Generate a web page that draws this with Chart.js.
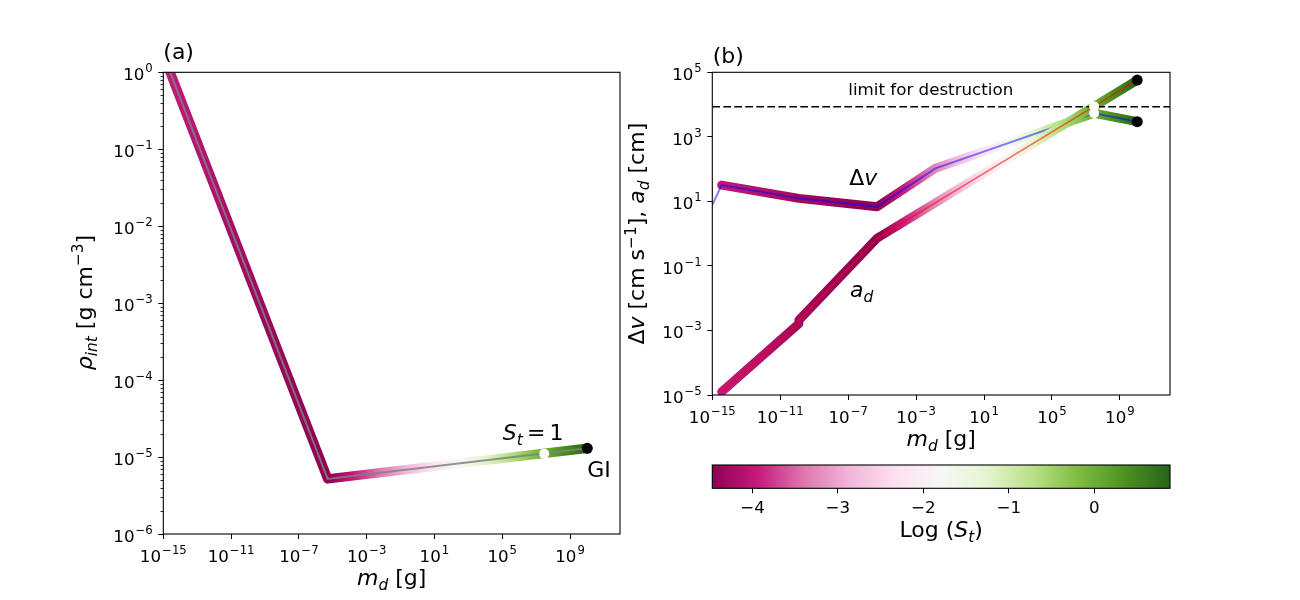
<!DOCTYPE html>
<html>
<head>
<meta charset="utf-8">
<script src="https://cdn.jsdelivr.net/npm/chart.js@4.4.0/dist/chart.umd.min.js"></script>
<style>
  body { margin: 0; background: #fff; }
  #wrap { position: relative; width: 1300px; height: 600px; }
  canvas { position: absolute; left: 0; top: 0; }
</style>
</head>
<body>
<div id="wrap">
  <canvas id="cA" width="1300" height="600"></canvas>
  <canvas id="cB" width="1300" height="600"></canvas>
  <canvas id="cC" width="1300" height="600"></canvas>
</div>
<script>
// ---- data ----
// panel (a): internal density along the track
const massA = [1e-15, 10 ** -5.3, 10 ** 10.02];
const rhoA = [1.7, 5.2e-6, 1.3e-5];
const stOneMass = 10 ** 7.48;
const stOneRho = 1.1e-5;

// panel (b): relative velocity and size
const massDv = [10 ** -14.45, 10 ** -9.9, 10 ** -5.3, 10 ** -1.86, 10 ** 7.48, 10 ** 10.02];
const dv = [32, 12.4, 6.8, 106, 5370, 2950];
const dvLeadMass = 1e-15;   // thin line only
const dvLead = 7.7;
const massAd = [10 ** -14.45, 10 ** -9.9, 10 ** -9.9, 10 ** -5.3, 10 ** -1.86, 10 ** 7.48, 10 ** 10.02];
const ad = [1.26e-5, 1.64e-3, 2.1e-3, 0.72, 9.06, 8770, 57500];
const limitDestruction = 8600;

// Stokes number along the track (log10), used for the colour of the thick lines
const stLogMass = [-15, -14.45, -9.9, -5.3, 7.48, 10.02];
const stLog = [-3.92, -3.97, -4.3, -4.47, 0, 0.886];
const cbMin = -4.47, cbMax = 0.886;

// ticks
const xTicks = [1e-15, 1e-11, 1e-7, 1e-3, 1e1, 1e5, 1e9];
const yTicksA = [1e-6, 1e-5, 1e-4, 1e-3, 1e-2, 1e-1, 1e0];
const yTicksB = [1e-5, 1e-3, 1e-1, 1e1, 1e3, 1e5];
const cbTicks = [-4, -3, -2, -1, 0];
const xMin = 1e-15, xMax = 10 ** 11.95;

// ---- helpers ----
const FONT = 'DejaVu Sans';
Chart.defaults.font.family = FONT;
Chart.defaults.color = '#000';

const PIYG = ['#8e0152', '#c51b7d', '#de77ae', '#f1b6da', '#fde0ef', '#f7f7f7',
              '#e6f5d0', '#b8e186', '#7fbc41', '#4d9221', '#276419'];
function hex(c) { return [1, 3, 5].map(i => parseInt(c.substr(i, 2), 16)); }
function piyg(t) {
  t = Math.min(1, Math.max(0, t));
  const p = t * 10, i = Math.min(9, Math.floor(p)), f = p - i;
  const a = hex(PIYG[i]), b = hex(PIYG[i + 1]);
  return 'rgb(' + a.map((v, k) => Math.round(v + (b[k] - v) * f)).join(',') + ')';
}
function stAt(lm) {
  if (lm <= stLogMass[0]) return stLog[0];
  for (let i = 1; i < stLogMass.length; i++) {
    if (lm <= stLogMass[i]) {
      const f = (lm - stLogMass[i - 1]) / (stLogMass[i] - stLogMass[i - 1]);
      return stLog[i - 1] + f * (stLog[i] - stLog[i - 1]);
    }
  }
  return stLog[stLog.length - 1];
}
function stGradient(ctx) {
  const chart = ctx.chart, area = chart.chartArea;
  if (!area) return '#c51b7d';
  const xs = chart.scales.x;
  const g = chart.ctx.createLinearGradient(area.left, 0, area.right, 0);
  const n = 160;
  for (let k = 0; k <= n; k++) {
    const px = area.left + (area.right - area.left) * k / n;
    const lm = Math.log10(xs.getValueForPixel(px));
    g.addColorStop(k / n, piyg((stAt(lm) - cbMin) / (cbMax - cbMin)));
  }
  return g;
}

function pow10(v) {
  const e = Math.round(Math.log10(v));
  return '10^' + e;
}
function pts(xs, ys) { return xs.map((x, i) => ({x: x, y: ys[i]})); }

// draw text with italic / sub / superscript parts
function drawMath(c, parts, x, y, size, align, rotate) {
  c.save();
  c.translate(x, y);
  if (rotate) c.rotate(-Math.PI / 2);
  c.fillStyle = '#000';
  c.textBaseline = 'alphabetic';
  c.textAlign = 'left';
  const fontOf = p => (p.i ? 'italic ' : '') + ((p.sub || p.sup) ? size * 0.7 : size) + 'px "' + FONT + '"';
  let w = 0;
  parts.forEach(p => { c.font = fontOf(p); p.w = c.measureText(p.t).width + (p.dx || 0); w += p.w; });
  let cx = align === 'center' ? -w / 2 : align === 'right' ? -w : 0;
  parts.forEach(p => {
    c.font = fontOf(p);
    const dy = p.sub ? size * 0.22 : p.sup ? (p.rise != null ? -p.rise : -size * 0.38) : 0;
    c.fillText(p.t, cx + (p.dx || 0), dy);
    cx += p.w;
  });
  c.restore();
}

// tick labels of the form 10^n, placed with the library's scale
function powLabels(chart, axis, ticks) {
  const s = chart.scales[axis], a = chart.chartArea, c = chart.ctx;
  ticks.forEach(v => {
    const e = Math.round(Math.log10(v));
    const parts = [{t: '10'}, {t: (e < 0 ? '−' : '') + Math.abs(e), sup: 1, rise: 8, dx: 1}];
    if (axis === 'x') {
      drawMath(c, parts, s.getPixelForValue(v), a.bottom + 28, 16.7, 'center');
    } else {
      drawMath(c, parts, a.left - 10.5, s.getPixelForValue(v) + 7.8, 16.7, 'right');
    }
  });
}

function frame(chart) {
  const a = chart.chartArea, c = chart.ctx;
  c.save();
  c.strokeStyle = '#000';
  c.lineWidth = 1.1;
  c.strokeRect(a.left, a.top, a.right - a.left, a.bottom - a.top);
  c.restore();
}

function logAxis(ticks, pos, width) {
  return {
    type: 'logarithmic',
    position: pos,
    bounds: 'data',
    border: {display: false},
    grid: {display: true, drawOnChartArea: false, drawTicks: true, tickLength: 5, color: '#000', tickColor: '#000', tickWidth: 1},
    ticks: {display: false, autoSkip: false, callback: v => pow10(v)},
    afterBuildTicks: s => { s.ticks = ticks.map(v => ({value: v})); },
    afterFit: s => { if (pos === 'left') s.width = width; else s.height = width; }
  };
}

const baseOpts = {
  responsive: false,
  animation: false,
  devicePixelRatio: 1,
  events: [],
  plugins: {legend: {display: false}, tooltip: {enabled: false}}
};

// ---- panel (a) ----
new Chart(document.getElementById('cA'), {
  type: 'scatter',
  data: {
    datasets: [
      {data: pts(massA, rhoA), showLine: true, borderColor: stGradient, borderWidth: 9.5,
       borderJoinStyle: 'round', borderCapStyle: 'round', pointRadius: 0, clip: 0, order: 3},
      {data: pts(massA, rhoA), showLine: true, borderColor: 'rgba(128,128,128,0.85)', borderWidth: 2,
       pointRadius: 0, clip: 0, order: 2},
      {data: [{x: stOneMass, y: stOneRho}], pointRadius: 5, pointBackgroundColor: '#fff',
       pointBorderWidth: 0, order: 1},
      {data: [{x: massA[massA.length - 1], y: rhoA[rhoA.length - 1]}], pointRadius: 5.5,
       pointBackgroundColor: '#000', pointBorderWidth: 0, order: 0}
    ]
  },
  options: Object.assign({}, baseOpts, {
    layout: {padding: {left: 0, right: 680, top: 72.3, bottom: 0}},
    scales: {
      x: Object.assign(logAxis(xTicks, 'bottom', 66), {min: xMin, max: xMax}),
      y: Object.assign(logAxis(yTicksA, 'left', 163.3), {min: 1e-6, max: 1})
    }
  }),
  plugins: [{
    id: 'deco',
    afterDraw(chart) {
      const c = chart.ctx, ys = chart.scales.y, a = chart.chartArea;
      c.save();
      c.strokeStyle = '#000';
      c.lineWidth = 0.8;
      for (let e = -6; e < 0; e++) {
        for (let k = 2; k <= 9; k++) {
          const py = Math.round(ys.getPixelForValue(k * 10 ** e)) + 0.5;
          c.beginPath(); c.moveTo(a.left - 2.8, py); c.lineTo(a.left, py); c.stroke();
        }
      }
      c.restore();
      frame(chart);
      powLabels(chart, 'x', xTicks);
      powLabels(chart, 'y', yTicksA);
      drawMath(c, [{t: '(a)'}], 163.3, 58.5, 22, 'left');
      drawMath(c, [{t: 'ρ', i: 1}, {t: 'int', i: 1, sub: 1}, {t: ' [g cm'}, {t: '−3', sup: 1}, {t: ']'}],
               91.7, 302.5, 22, 'center', true);
      drawMath(c, [{t: 'm', i: 1}, {t: 'd', i: 1, sub: 1}, {t: ' [g]'}], 391.7, 585, 22, 'center');
      drawMath(c, [{t: 'S', i: 1}, {t: 't', i: 1, sub: 1}, {t: '=', dx: 4.2}, {t: '1', dx: 4.2}],
               502.7, 440, 22, 'left');
      drawMath(c, [{t: 'GI'}], 587.3, 476.7, 22, 'left');
    }
  }]
});

// ---- panel (b) ----
new Chart(document.getElementById('cB'), {
  type: 'scatter',
  data: {
    datasets: [
      {data: pts(massDv, dv), showLine: true, borderColor: stGradient, borderWidth: 9,
       borderJoinStyle: 'round', borderCapStyle: 'round', pointRadius: 0, clip: 0, order: 7},
      {data: pts([dvLeadMass].concat(massDv), [dvLead].concat(dv)), showLine: true,
       borderColor: 'rgba(0,0,255,0.5)', borderWidth: 2, pointRadius: 0, clip: 0, order: 6},
      {data: pts(massAd, ad), showLine: true, borderColor: stGradient, borderWidth: 9,
       borderJoinStyle: 'round', borderCapStyle: 'round', pointRadius: 0, clip: 0, order: 5},
      {data: pts(massAd, ad), showLine: true, borderColor: 'rgba(255,0,0,0.55)', borderWidth: 1.6,
       pointRadius: 0, clip: 0, order: 4},
      {data: [{x: xMin, y: limitDestruction}, {x: xMax, y: limitDestruction}], showLine: true,
       borderColor: '#000', borderWidth: 1.5, borderDash: [7.7, 3.3], pointRadius: 0, clip: 0, order: 3},
      {data: [{x: massDv[4], y: dv[4]}, {x: massAd[5], y: ad[5]}], pointRadius: 5,
       pointBackgroundColor: '#fff', pointBorderWidth: 0, order: 2},
      {data: [{x: massDv[massDv.length - 1], y: dv[dv.length - 1]}, {x: massAd[massAd.length - 1], y: ad[ad.length - 1]}],
       pointRadius: 5.5, pointBackgroundColor: '#000', pointBorderWidth: 0, order: 1}
    ]
  },
  options: Object.assign({}, baseOpts, {
    layout: {padding: {left: 632.3, right: 130, top: 72.3, bottom: 0}},
    scales: {
      x: Object.assign(logAxis(xTicks, 'bottom', 205), {min: xMin, max: xMax}),
      y: Object.assign(logAxis(yTicksB, 'left', 80), {min: 1e-5, max: 1e5})
    }
  }),
  plugins: [{
    id: 'deco',
    afterDraw(chart) {
      const c = chart.ctx;
      frame(chart);
      powLabels(chart, 'x', xTicks);
      powLabels(chart, 'y', yTicksB);
      drawMath(c, [{t: '(b)'}], 712.7, 62.5, 22, 'left');
      drawMath(c, [{t: 'Δ'}, {t: 'v', i: 1}, {t: ' [cm s'}, {t: '−1', sup: 1}, {t: '], '},
                   {t: 'a', i: 1}, {t: 'd', i: 1, sub: 1}, {t: ' [cm]'}], 644, 233.7, 22, 'center', true);
      drawMath(c, [{t: 'm', i: 1}, {t: 'd', i: 1, sub: 1}, {t: ' [g]'}], 941.2, 446, 22, 'center');
      drawMath(c, [{t: 'limit for destruction'}], 848.3, 95, 16.7, 'left');
      drawMath(c, [{t: 'Δ'}, {t: 'v', i: 1}], 849.3, 185, 22, 'left');
      drawMath(c, [{t: 'a', i: 1}, {t: 'd', i: 1, sub: 1}], 850, 297.3, 22, 'left');
    }
  }]
});

// ---- colour bar ----
new Chart(document.getElementById('cC'), {
  type: 'scatter',
  data: {datasets: []},
  options: Object.assign({}, baseOpts, {
    layout: {padding: {left: 712.3, right: 130, top: 465, bottom: 0}},
    scales: {
      x: {
        type: 'linear', min: cbMin, max: cbMax, bounds: 'data', position: 'bottom',
        border: {display: false},
        grid: {display: true, drawOnChartArea: false, drawTicks: true, tickLength: 5, color: '#000', tickColor: '#000', tickWidth: 1},
        ticks: {font: {size: 16.7}, color: '#000', autoSkip: false, maxRotation: 0, padding: 5.5,
                callback: v => (v < 0 ? '−' + Math.abs(v) : String(v))},
        afterBuildTicks: s => { s.ticks = cbTicks.map(v => ({value: v})); },
        afterFit: s => { s.height = 600 - 488.3; }
      },
      y: {display: false, min: 0, max: 1}
    }
  }),
  plugins: [{
    id: 'bar',
    beforeDatasetsDraw(chart) {
      const a = chart.chartArea, c = chart.ctx;
      const g = c.createLinearGradient(a.left, 0, a.right, 0);
      PIYG.forEach((col, i) => g.addColorStop(i / 10, col));
      c.save();
      c.fillStyle = g;
      c.fillRect(a.left, a.top, a.right - a.left, a.bottom - a.top);
      c.restore();
    },
    afterDraw(chart) {
      frame(chart);
      drawMath(chart.ctx, [{t: 'Log ('}, {t: 'S', i: 1}, {t: 't', i: 1, sub: 1}, {t: ')'}], 941.2, 537, 22, 'center');
    }
  }]
});
</script>
</body>
</html>
